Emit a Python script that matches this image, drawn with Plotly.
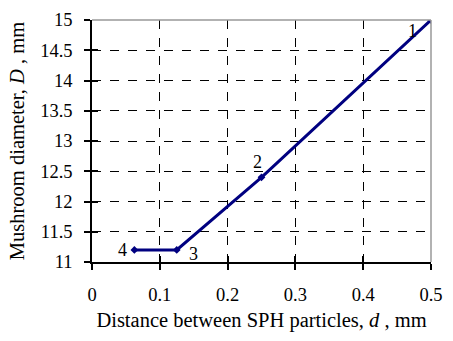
import plotly.graph_objects as go

d_vals = [0.0625, 0.125, 0.25, 0.5]
D_vals = [11.2, 11.2, 12.4, 15.0]
point_labels = ["4", "3", "2", "1"]
x_ticks = [0, 0.1, 0.2, 0.3, 0.4, 0.5]
y_ticks = [11, 11.5, 12, 12.5, 13, 13.5, 14, 14.5, 15]

FONT = "Liberation Serif, serif"

fig = go.Figure()
fig.add_trace(go.Scatter(
    x=d_vals, y=D_vals, mode="lines+markers",
    line=dict(color="#000080", width=3),
    marker=dict(symbol="diamond", size=6, color="#000080"),
    showlegend=False,
))
# invisible trace to activate the inner-tick axes
fig.add_trace(go.Scatter(x=[d_vals[0]], y=[D_vals[0]], xaxis="x2", yaxis="y2",
                         mode="markers", marker=dict(opacity=0), showlegend=False,
                         hoverinfo="skip"))

# (dx right, dy down) in pixels
offsets = {"4": (-12, 0), "3": (17, 4), "2": (-4, -15), "1": (-19, 11)}
for x, y, lab in zip(d_vals, D_vals, point_labels):
    ax, ay = offsets[lab]
    fig.add_annotation(x=x, y=y, text=lab, showarrow=False,
                       xshift=ax, yshift=-ay,
                       font=dict(family=FONT, size=18, color="black"))

# gray top/right border
fig.add_shape(type="line", xref="paper", yref="paper", x0=0, x1=1, y0=1, y1=1,
              line=dict(color="#999999", width=1.5))
fig.add_shape(type="line", xref="paper", yref="paper", x0=1, x1=1, y0=0, y1=1,
              line=dict(color="#999999", width=1.5))

fig.update_layout(
    width=453, height=341,
    margin=dict(l=92, r=14, t=10, b=79),
    plot_bgcolor="white", paper_bgcolor="white",
    font=dict(family=FONT, size=18, color="black"),
    xaxis=dict(
        range=[0, 0.5], tickvals=x_ticks, ticktext=[f"{v:g}" for v in x_ticks],
        showline=True, linecolor="black", linewidth=1.5,
        ticks="outside", ticklen=6, tickcolor="black", tickwidth=1.5,
        showgrid=True, gridcolor="black", griddash="dash", gridwidth=1,
        zeroline=False, ticklabelstandoff=9,
        tickfont=dict(family=FONT, size=18.5),
        title=dict(text="Distance between SPH particles, <i>d</i> , mm",
                   font=dict(family=FONT, size=20.5), standoff=9),
    ),
    yaxis=dict(
        range=[11, 15], tickvals=y_ticks, ticktext=[f"{v:g}" for v in y_ticks],
        showline=True, linecolor="black", linewidth=1.5,
        ticks="outside", ticklen=6, tickcolor="black", tickwidth=1.5,
        showgrid=True, gridcolor="black", griddash="dash", gridwidth=1,
        zeroline=False, ticklabelstandoff=8,
        tickfont=dict(family=FONT, size=18.5),
        title=dict(text="Mushroom diameter, <i>D</i> , mm",
                   font=dict(family=FONT, size=20.5), standoff=10),
    ),
    xaxis2=dict(
        range=[0, 0.5], overlaying="x", tickvals=x_ticks, showticklabels=False,
        ticks="inside", ticklen=6, tickcolor="black", tickwidth=1.5,
        showgrid=False, zeroline=False, showline=False, side="bottom",
    ),
    yaxis2=dict(
        range=[11, 15], overlaying="y", tickvals=y_ticks, showticklabels=False,
        ticks="inside", ticklen=6, tickcolor="black", tickwidth=1.5,
        showgrid=False, zeroline=False, showline=False, side="left",
    ),
)

fig.write_html("out.html")
